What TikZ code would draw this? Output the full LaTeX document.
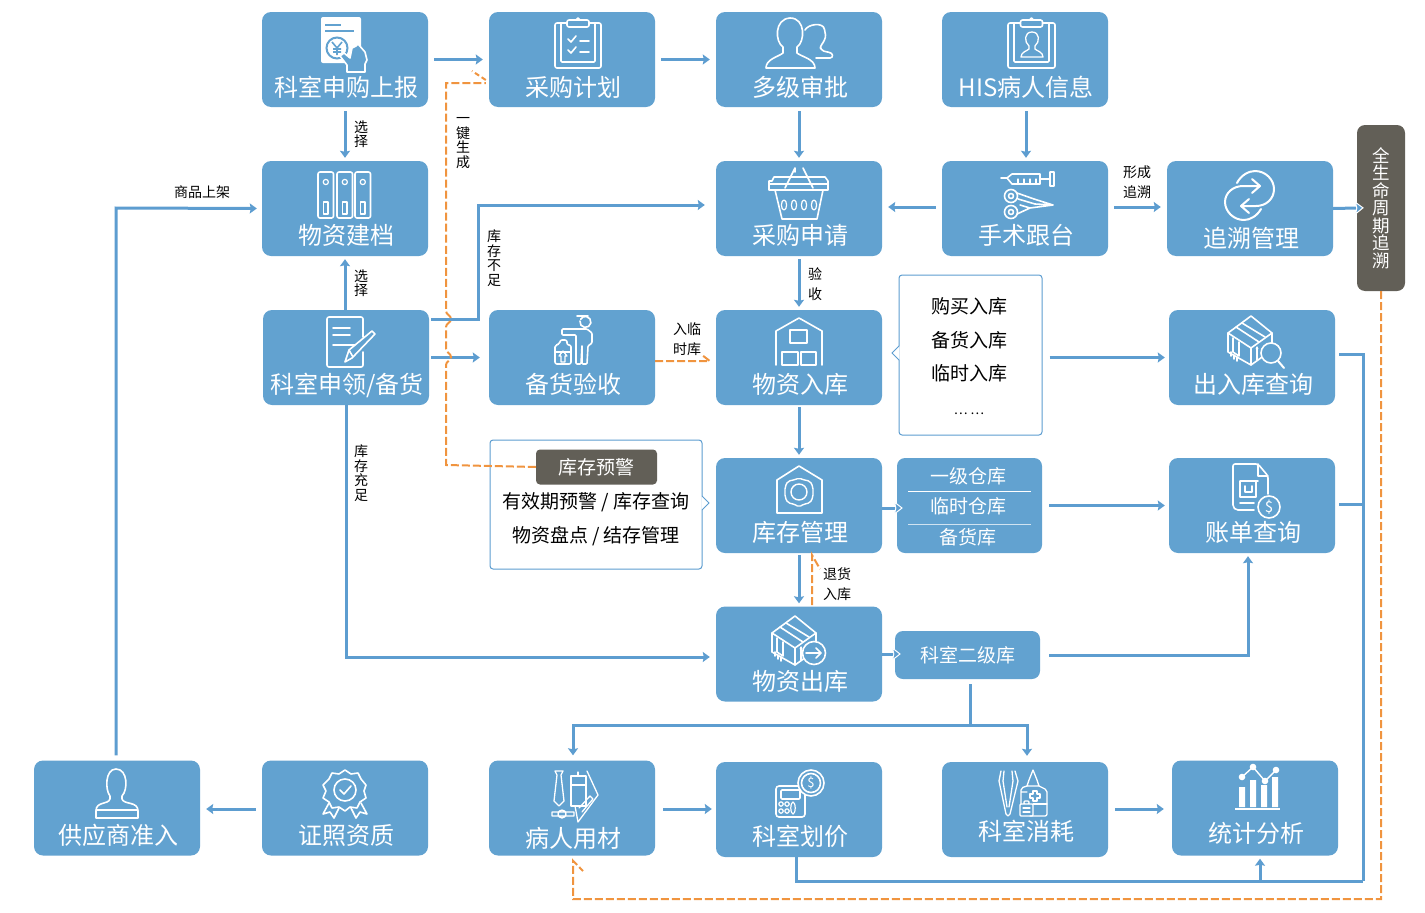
\documentclass[tikz,border=0pt]{standalone}
\usepackage{fontspec}
\setmainfont{Noto Sans CJK SC}
\usetikzlibrary{arrows.meta,calc}
\definecolor{boxblue}{HTML}{62A2D0}
\definecolor{lineblue}{HTML}{5D9DD0}
\definecolor{dashor}{HTML}{F0943F}
\definecolor{darkbox}{HTML}{625F57}
\newcommand{\boxlabel}[1]{\smash{\raisebox{\dimexpr -#1pt - 9pt\relax}{\kern2pt\boxlabeltext}}}
\newcommand{\lbl}[2]{\def\boxlabeltext{#2}\boxlabel{#1}}
\newcommand{\isobox}[2]{%
\begin{scope}[shift={(#1,#2)},icon]
\draw (23,0)--(0,17)--(0,36)--(23,49)--(44,34)--(44,17)--cycle;
\draw (0,17)--(23,32)--(44,17);
\draw (23,32)--(23,49);
\draw (8,11)--(31,26);
\draw (14,7)--(37,21);
\draw (5,22)--(5,36)--(11,40)--(11,26);
\draw (29,44)--(29,32);
\draw[-{Stealth[length=3pt,width=3pt]}] (29,38)--(29,30);
\draw (3,36)--(3,40);
\draw (6,39)--(6,43);
\draw (9,41)--(9,45);
\end{scope}}
\newcommand{\clipboard}[4]{% x0 y0 x1 y1
\draw[icon,rounded corners=2pt] (#1,#2) rectangle (#3,#4);
\draw[icon,rounded corners=1pt] ($(#1,#2)+(6,0)$) -- ($(#1,#4)+(6,-6)$) -- ($(#3,#4)+(-6,-6)$) -- ($(#3,#2)+(-6,0)$);
\draw[icon,fill=boxblue,rounded corners=2pt] ($(#1,#2)!0.5!(#3,#2)+(-11,-3)$) rectangle ($(#1,#2)!0.5!(#3,#2)+(11,4)$);
\draw[icon] ($(#1,#2)!0.5!(#3,#2)+(-2,-3)$) -- ($(#1,#2)!0.5!(#3,#2)+(0,-5)$) -- ($(#1,#2)!0.5!(#3,#2)+(2,-3)$);}
\tikzset{
 bluebox/.style={rectangle,rounded corners=9pt,fill=boxblue,minimum width=166pt,minimum height=95pt,inner sep=0pt,text=white,font=\fontsize{24}{24}\selectfont},
 smallbox/.style={rectangle,rounded corners=8pt,fill=boxblue,minimum width=145pt,inner sep=0pt,text=white,font=\fontsize{19}{19}\selectfont},
 darknode/.style={rectangle,rounded corners=4pt,fill=darkbox,inner sep=0pt,text=white},
 notebox/.style={rectangle,rounded corners=3pt,draw=lineblue,fill=white,line width=1pt,inner sep=0pt},
 conn/.style={draw=lineblue,line width=3pt,-{Stealth[length=7pt,width=10pt,inset=1pt]},shorten >=6pt,shorten <=6pt},
 connw/.style={draw=lineblue,line width=3pt,-{Stealth[length=9pt,width=14pt,inset=1.5pt,color=white,fill=lineblue,line width=1pt]}},
 plainline/.style={draw=lineblue,line width=3pt},
 dashline/.style={draw=dashor,line width=2pt,dash pattern=on 8pt off 3pt},
 tiny/.style={font=\fontsize{14}{14.5}\selectfont,align=center,inner sep=0pt,text=black},
 tinywide/.style={font=\fontsize{14}{20}\selectfont,align=center,inner sep=0pt,text=black},
 notetext/.style={font=\fontsize{19}{19}\selectfont,inner sep=0pt,text=black},
 icon/.style={draw=white,line width=1.6pt,line join=round,line cap=round},
 thinicon/.style={draw=white,line width=1.2pt,line join=round,line cap=round},
}
\begin{document}
\begin{tikzpicture}[x=1pt,y=-1pt]
\useasboundingbox (0,0) rectangle (1425,913);
% note boxes
\node[notebox,minimum width=143pt,minimum height=160pt] (n1) at (970.5,355) {};
\fill[white] (899.6,346) -- (892,353) -- (899.6,360) -- cycle;
\draw[lineblue,line width=1pt] (899,346) -- (892,353) -- (899,360);
\node[notebox,minimum width=212pt,minimum height=129pt] (n2) at (596,504.5) {};
\fill[white] (701.4,496) -- (709,503) -- (701.4,510) -- cycle;
\draw[lineblue,line width=1pt] (702,496) -- (709,503) -- (702,510);
\node[notetext] (n1a) at (969,306) {购买入库};
\node[notetext] (n1b) at (969,340) {备货入库};
\node[notetext] (n1c) at (969,373) {临时入库};
\node[font=\fontsize{13}{13}\selectfont,inner sep=0pt] (n1d) at (969,414) {… …};
\node[notetext] (n2a) at (596,502) {有效期预警 / 库存查询};
\node[notetext] (n2b) at (596,536) {物资盘点 / 结存管理};
\node[darknode,minimum width=121pt,minimum height=35pt,font=\fontsize{19}{19}\selectfont] (warn) at (596.5,467) {库存预警};
% main boxes
\node[bluebox] (sb) at (345,59.5) {\lbl{28}{科室申购上报}};
\node[bluebox] (plan) at (572,59.5) {\lbl{28}{采购计划}};
\node[bluebox] (appr) at (799,59.5) {\lbl{28}{多级审批}};
\node[bluebox] (his) at (1025,59.5) {\lbl{28}{HIS病人信息}};
\node[bluebox] (file) at (345,208.5) {\lbl{27}{物资建档}};
\node[bluebox] (req) at (799,208.5) {\lbl{27}{采购申请}};
\node[bluebox] (surg) at (1025,208.5) {\lbl{27}{手术跟台}};
\node[bluebox] (trace) at (1250,208.5) {\lbl{30}{追溯管理}};
\node[bluebox] (apply) at (346,357.5) {\lbl{27}{科室申领/备货}};
\node[bluebox] (stock) at (572,357.5) {\lbl{27}{备货验收}};
\node[bluebox] (inb) at (799,357.5) {\lbl{27}{物资入库}};
\node[bluebox] (inq) at (1252,357.5) {\lbl{27}{出入库查询}};
\node[bluebox] (mgmt) at (799,505.5) {\lbl{27}{库存管理}};
\node[bluebox] (bill) at (1252,505.5) {\lbl{27}{账单查询}};
\node[bluebox] (outb) at (799,654) {\lbl{27}{物资出库}};
\node[bluebox] (supplier) at (117,808) {\lbl{27}{供应商准入}};
\node[bluebox] (cert) at (345,808) {\lbl{27}{证照资质}};
\node[bluebox] (patient) at (572,808) {\lbl{30}{病人用材}};
\node[bluebox] (price) at (799,809.5) {\lbl{27}{科室划价}};
\node[bluebox] (consume) at (1025,809.5) {\lbl{22}{科室消耗}};
\node[bluebox] (stats) at (1255,808) {\lbl{25}{统计分析}};
\node[smallbox,minimum height=95pt] (wh) at (969.5,505.5) {};
\node[text=white,font=\fontsize{19}{19}\selectfont,inner sep=0pt] (wh1) at (968,476) {一级仓库};
\node[text=white,font=\fontsize{19}{19}\selectfont,inner sep=0pt] (wh2) at (968,506) {临时仓库};
\node[text=white,font=\fontsize{19}{19}\selectfont,inner sep=0pt] (wh3) at (968,537) {备货库};
\draw[white,line width=1pt] (908,491) -- (1031,491);
\draw[white!70!boxblue,line width=1pt] (908,524) -- (1031,524);
\node[smallbox,minimum height=48pt] (dept2) at (967.5,655) {科室二级库};
\node[darknode,rounded corners=8pt,minimum width=48pt,minimum height=166pt,font=\fontsize{17.5}{17.5}\selectfont,align=center] (life) at (1381,208) {全\\生\\命\\周\\期\\追\\溯};
% connectors
\draw[conn] (sb.east) -- (plan.west);
\draw[conn] (plan.east) -- (appr.west);
\draw[conn,shorten >=3pt,shorten <=4pt] (appr.south) -- (req.north);
\draw[conn,shorten >=3pt,shorten <=4pt] ([xshift=1pt]his.south) -- ([xshift=1pt]surg.north);
\draw[conn] ([yshift=1.5pt]surg.west) -- ([yshift=1.5pt]req.east);
\draw[conn] ([yshift=1.5pt]surg.east) -- ([yshift=1.5pt]trace.west);
\draw[conn,shorten >=3pt,shorten <=4pt] (sb.south) -- (file.north);
\draw[conn,shorten >=3pt,shorten <=0pt] ([xshift=-1pt]apply.north) -- (file.south);
\draw[connw,shorten >=-7pt] (trace.east) -- (life.west);
\coordinate (supbend) at (116,208);
\draw[conn,shorten >=5pt,shorten <=5pt] ([xshift=-1pt]supplier.north) -- (supbend) -- (file.west);
\draw[conn,shorten >=11pt,shorten <=2pt] ([yshift=38.5pt]apply.east) -| (478,205) -- ([yshift=3.5pt]req.west);
\draw[conn,shorten >=9pt,shorten <=2pt] (apply.east) -- (stock.west);
\draw[conn,shorten >=3pt,shorten <=3pt] (req.south) -- (inb.north);
\draw[conn,shorten >=3pt,shorten <=2pt] (inb.south) -- (mgmt.north);
\draw[conn,shorten >=3pt,shorten <=2pt] (mgmt.south) -- (outb.north);
\draw[connw,shorten >=-6pt] ([yshift=-2.5pt]mgmt.east) -- ([yshift=-2.5pt]wh.west);
\draw[connw,shorten >=-6pt] (outb.east) -- (dept2.west |- outb.east);
\draw[conn,shorten >=6pt,shorten <=0pt] (apply.south) |- ([yshift=-3pt]outb.west);
\draw[conn,shorten >=4pt,shorten <=7pt] (n1.east |- inq.west) -- (inq.west);
\draw[conn,shorten >=4pt,shorten <=7pt] (wh.east) -- (bill.west);
\draw[conn,shorten >=3pt,shorten <=9pt] (dept2.east) -| ([yshift=0pt,xshift=-4pt]bill.south);
\coordinate (branch) at (970,725);
\draw[plainline,shorten <=5pt] ([xshift=2.5pt]dept2.south) -- (branch);
\draw[conn,shorten >=5pt,shorten <=0pt] (branch) -| ([xshift=1pt]patient.north);
\draw[conn,shorten >=6pt,shorten <=0pt] (branch) -| ([xshift=2pt]consume.north);
\draw[conn] ([yshift=-1pt]cert.west) -- ([yshift=-1pt]supplier.east);
\draw[conn,shorten >=4pt,shorten <=8pt] ([yshift=-1pt]patient.east) -- ([yshift=-1pt]price.west |- patient.east);
\draw[conn,shorten >=8pt,shorten <=7pt] ([yshift=-1pt]consume.east |- stats.west) -- ([yshift=-1pt]stats.west);
\coordinate (trunk) at (1363,881);
\coordinate (join) at (1260,881);
\draw[plainline] ([xshift=-3pt]price.south) |- (trunk);
\draw[plainline,shorten >=4pt] (trunk) |- ([yshift=3.5pt]inq.east);
\draw[plainline,shorten >=4pt] (trunk |- 0,504) -- ([yshift=1.5pt]bill.east);
\draw[conn,shorten >=3pt,shorten <=0pt] (join) -- (join |- stats.south);
% dashed connectors
\draw[dashline] (warn.west) -- (446,465) -- (446,365) .. controls (446,361) and (451,361) .. (451,357) .. controls (451,353) and (446,353) .. (446,349)
 -- (446,327) .. controls (446,323) and (451,323) .. (451,319) .. controls (451,315) and (446,315) .. (446,311) -- (446,83) -- ([xshift=-3pt,yshift=-23.5pt]plan.west);
\draw[dashline,dash pattern=on 5pt off 3pt] ([xshift=-3pt,yshift=-20.5pt]plan.west) -- (472,71);
\draw[dashline] ([yshift=-3.5pt]stock.east) -- ([xshift=-6pt,yshift=-3.5pt]inb.west) -- (702,355);
\draw[dashline] (812,605) -- (812,555) -- (820,569);
\draw[dashline] (life.south) -- (1381,899) -| ([yshift=-5pt,xshift=1pt]patient.south) -- (583,871);
% small labels
\node[tiny] (l1) at (361,134) {选\\择};
\node[tiny] (l2) at (361,283) {选\\择};
\node[tiny] (l3) at (463,143) {一\\键\\生\\成};
\node[tiny] (l4) at (494,258) {库\\存\\不\\足};
\node[tiny] (l5) at (361,473) {库\\存\\充\\足};
\node[tiny] (l6) at (202,192) {商品上架};
\node[tinywide] (l7) at (687,339) {入临\\时库};
\node[tinywide] (l8) at (815,284) {验\\收};
\node[tinywide] (l9) at (1137,182) {形成\\追溯};
\node[tinywide] (l10) at (837,584) {退货\\入库};
% ICONS
% purchase report
\fill[white,rounded corners=2pt] (321,17) rectangle (361,63);
\draw[boxblue,line width=2pt] (325,25)--(341,25) (325,31)--(354,31);
\draw[boxblue,line width=2pt] (337,48) circle (10.5);
\draw[boxblue,line width=1.6pt] (332,42)--(337,48)--(342,42) (337,48)--(337,55) (333,49)--(341,49) (333,52)--(341,52);
\filldraw[fill=boxblue,icon] (347,72)--(347,65)--(340,56)--(344,53)--(350,58)--(352,48)--(356,46)--(358,44)--(365,52)--(367,60)--(365,64)--(365,72)--cycle;
% plan clipboard
\clipboard{555}{23}{601}{68}
\draw[icon] (568,39)--(571,42)--(576,36) (568,50)--(571,53)--(576,47) (580,41)--(589,41) (580,52)--(589,52);
% people
\draw[icon,rounded corners=3pt] (805,30) .. controls (808,24) and (823,22) .. (825,32) .. controls (826,38) and (823,43) .. (820,46) -- (821,50) .. controls (826,52) and (832,52) .. (833,58) -- (816,58);
\filldraw[fill=boxblue,icon] (766,68) .. controls (766,59) and (778,57) .. (783,53) -- (783,47) .. controls (775,42) and (774,19) .. (790,18) .. controls (806,18) and (805,42) .. (797,47) -- (797,53) .. controls (802,57) and (815,59) .. (815,68) -- cycle;
% HIS clipboard
\clipboard{1008}{23}{1055}{68}
\draw[icon,line width=1.3pt] (1021,57) .. controls (1021,52) and (1027,51) .. (1029,49) -- (1029,46) .. controls (1024,42) and (1024,32) .. (1032,32) .. controls (1040,32) and (1040,42) .. (1035,46) -- (1035,49) .. controls (1037,51) and (1043,52) .. (1043,57) -- cycle;
% binders
\foreach \x in {318,337,355}{
 \draw[icon,rounded corners=2pt] (\x,172) rectangle (\x+15.5,218);
 \draw[icon,line width=1.2pt] (\x+7.8,182) circle (2.6);
 \draw[icon,line width=1.2pt] (\x+5.5,202) rectangle (\x+10,214);
}
% basket
\draw[icon] (785,188)--(795,168) (813,188)--(803,168) (795,168)--(795,172);
\draw[icon] (772,181)--(774,177)--(825,177)--(828,181)--(828,190)--(769,190)--(769,181)--cycle;
\draw[icon] (769,184)--(828,184);
\draw[icon] (775,190)--(782,219)--(817,219)--(823,190);
\foreach \x in {784,794,804,814}{\draw[thinicon] (\x,205) ellipse (2.6 and 5);}
% syringe & scissors
\draw[icon] (1001,178)--(1007,178)--(1012,174)--(1040,174)--(1040,184)--(1012,184)--(1007,178);
\draw[icon] (1040,179)--(1050,179) (1050,172)--(1050,186) (1054,172)--(1054,186) (1050,172)--(1054,172) (1050,186)--(1054,186);
\draw[thinicon] (1018,184)--(1018,179) (1024,184)--(1024,179) (1030,184)--(1030,179) (1036,184)--(1036,179);
\draw[icon] (1011,196) circle (6.5) (1011,196) circle (2.5) (1011,212) circle (6.5) (1011,212) circle (2.5);
\draw[icon] (1017,193)--(1034,199)--(1053,205)--(1030,208)--(1017,214) (1018,199)--(1035,204)--(1053,205) (1020,205)--(1030,208);
% trace
\draw[icon,line width=2pt] (1237,183) .. controls (1241,175) and (1249,171) .. (1255,171) .. controls (1266,171) and (1274,180) .. (1274,189) .. controls (1274,199) and (1266,206) .. (1256,206) -- (1241,206) (1249,199)--(1241,206)--(1249,213);
\draw[icon,line width=2pt] (1261,209) .. controls (1257,216) and (1250,220) .. (1244,220) .. controls (1233,220) and (1225,211) .. (1225,202) .. controls (1225,193) and (1233,186) .. (1243,186) -- (1260,186) (1252,179)--(1260,186)--(1252,193);
% apply doc & pencil
\draw[icon,rounded corners=2pt] (363,337)--(363,317)--(327,317)--(327,367)--(363,367)--(363,352);
\draw[icon] (333,328)--(350,328) (333,335)--(350,335) (333,345)--(355,345);
\draw[icon] (345,362)--(349,350)--(372,331)--(375,334)--(352,358)--cycle (349,350)--(353,357);
% stock person
\draw[icon] (580,321) arc (190:-150:5.5);
\draw[icon] (577,316)--(588,316);
\draw[icon,rounded corners=1pt] (562,333)--(562,329)--(587,329)--(592,333)--(592,343)--(588,346)--(587,364)--(582,364)--(582,345)--(581,364)--(576,364)--(576,335)--(562,335)--(562,333);
\draw[icon,rounded corners=2pt] (555,364)--(555,345)--(560,344)--(560,340)--(567,340)--(567,345)--(571,345)--(571,364)--cycle (555,352)--(571,352);
\draw[thinicon] (563,351)--(559,356)--(561,356)--(561,362)--(565,362)--(565,356)--(567,356)--cycle;
% inbound
\draw[icon] (776,365)--(776,331)--(799,318)--(822,331)--(822,365);
\draw[icon] (790,330) rectangle (807,343) (782,352) rectangle (798,365) (801,352) rectangle (816,365);
% stock mgmt
\draw[icon] (777,513)--(777,480)--(799,466)--(822,480)--(822,513)--cycle;
\draw[icon,line width=1.4pt] (799,492) circle (8);
\draw[icon,line width=1.4pt,rounded corners=2pt] (799,478)--(804,480)--(810,481)--(813,487)--(813,497)--(810,503)--(804,504)--(799,507)--(794,504)--(788,503)--(785,497)--(785,487)--(788,481)--(794,480)--cycle;
% outbound
\isobox{772}{616}
\draw[icon,fill=boxblue] (814,653) circle (11.5);
\draw[icon] (806,653)--(821,653) (816,648)--(821,653)--(816,658);
% inq
\isobox{1228}{316}
\draw[icon,fill=boxblue] (1271,353) circle (10);
\draw[icon,line width=2pt] (1278,361)--(1284,368);
% bill
\draw[icon,rounded corners=2pt] (1254,510)--(1236,510)--(1233,507)--(1233,464)--(1258,464)--(1268,476)--(1268,494);
\draw[icon] (1258,464)--(1258,476)--(1268,476);
\draw[icon] (1240,481)--(1258,481) (1240,481)--(1240,497)--(1256,497)--(1256,481) (1245,486)--(1245,492)--(1252,492)--(1252,486) (1240,503)--(1254,503);
\draw[icon,fill=boxblue] (1269,507) circle (11);
\node[text=white,font=\fontsize{15}{15}\selectfont,inner sep=0pt] (dollar1) at (1269,507) {\$};
% supplier stamp
\draw[icon] (96,818)--(96,811) .. controls (96,801) and (108,805) .. (110,799) -- (110,796) .. controls (105,790) and (105,769) .. (116,769) .. controls (128,769) and (128,790) .. (122,796) -- (122,799) .. controls (124,805) and (138,801) .. (138,811) -- (138,818) -- cycle (96,810)--(138,810);
% cert
\draw[icon] (345,770) -- (351,774) -- (358,773) -- (361,779) -- (366,785) -- (364,791) -- (366,798) -- (360,802) -- (357,808) -- (350,807) -- (345,811) -- (339,807) -- (332,808) -- (329,802) -- (323,798) -- (326,791) -- (323,785) -- (329,779) -- (332,773) -- (339,774) -- cycle;
\draw[icon] (345,790) circle (11);
\draw[icon] (340,790)--(344,794)--(351,786);
\draw[icon] (329,803)--(323,814)--(330,812)--(334,818)--(339,808) (361,803)--(367,814)--(360,812)--(356,818)--(351,808);
% patient tools
\draw[icon,line width=1.3pt] (555,771)--(563,771)--(561,775)--(564,801)--(559,806)--(554,801)--(557,775)--cycle;
\draw[icon,line width=1.3pt] (571,776)--(571,806)--(586,806)--(586,776)--cycle (571,785)--(586,785) (578,772)--(578,776);
\draw[icon,line width=1.3pt] (587,771)--(598,795)--(578,822)--(575,806);
\draw[icon,line width=1.3pt] (552,812) rectangle (574,816) (562,814) circle (4);
\draw[icon,line width=1.3pt] (579,808)--(590,796)--(593,799)--(582,812);
% calculator
\draw[icon,rounded corners=3pt] (776,786) rectangle (805,817);
\draw[icon,rounded corners=1pt] (781,790) rectangle (800,799);
\foreach \y in {804,811}{\foreach \x in {781,787}{\draw[thinicon] (\x,\y) circle (2.2);}}
\draw[thinicon] (793,808) ellipse (2.2 and 6);
\draw[icon,fill=boxblue] (811,783) circle (13) (811,783) circle (9.5);
\node[text=white,font=\fontsize{13}{13}\selectfont,inner sep=0pt] (dollar2) at (811,783) {\$};
% consume
\draw[icon,line width=1.3pt] (1001,771)--(999,781)--(1006,814)--(1008,816)--(1010,814)--(1018,781)--(1015,771) (1004,771)--(1003,781)--(1007,807) (1012,771)--(1013,781)--(1009,807);
\draw[icon,line width=1.3pt,rounded corners=2pt] (1027,786)--(1021,788)--(1021,804) (1021,792)--(1027,792) (1039,786)--(1047,790)--(1047,816)--(1030,816);
\draw[icon,line width=1.3pt] (1027,786)--(1029,780)--(1033,770)--(1037,780)--(1039,786)--cycle;
\draw[icon,line width=1.3pt] (1033,791)--(1037,791)--(1037,794)--(1040,794)--(1040,798)--(1037,798)--(1037,801)--(1033,801)--(1033,798)--(1030,798)--(1030,794)--(1033,794)--cycle;
\draw[icon,line width=1.3pt,rounded corners=1pt] (1020,804) rectangle (1033,816) (1024,801) rectangle (1029,804);
\draw[thinicon] (1023,808)--(1030,808) (1023,812)--(1030,812) (1047,804)--(1033,804);
% stats
\fill[white] (1239,787) rectangle (1245,807) (1250,780) rectangle (1256,807) (1261,785) rectangle (1267,807) (1272,777) rectangle (1278,807);
\draw[white,line width=2pt] (1235,809)--(1280,809);
\draw[white,line width=1.4pt] (1242,777)--(1253,767)--(1265,781)--(1276,770);
\foreach \x/\y in {1242/777,1253/767,1265/781,1276/770}{\fill[white] (\x,\y) circle (3.3);}
\end{tikzpicture}
\end{document}
